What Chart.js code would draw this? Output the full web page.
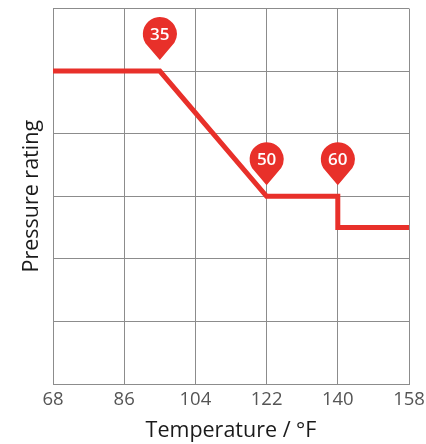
<!DOCTYPE html>
<html>
<head>
<meta charset="utf-8">
<style>
  html, body { margin: 0; padding: 0; background: #fff; }
  #myChart { display: block; }
</style>
<script src="https://cdn.jsdelivr.net/npm/chart.js@4"></script>
</head>
<body>
<canvas id="myChart" width="426" height="444"></canvas>
<script>
var lineX = [68, 95, 122, 140, 140, 158];
var lineY = [5, 5, 3, 3, 2.5, 2.5];
var pinX = [95, 122, 140];
var pinY = [5, 3, 3];
var pinLabels = ["35", "50", "60"];
var xTicks = [68, 86, 104, 122, 140, 158];
var yTicks = [0, 1, 2, 3, 4, 5, 6];

var red = "#e8302a";
var gridColor = "#8c8c8c";
var font = "'Open Sans'";

// draws the map pin above each point of the second dataset
var pinPlugin = {
  id: "pins",
  afterDatasetsDraw: function (chart) {
    var c = chart.ctx;
    var points = chart.getDatasetMeta(1).data;
    points.forEach(function (p, i) {
      var tipY = p.y - 11;
      var cy = tipY - 26;
      var r = 17;
      c.save();
      c.fillStyle = red;
      c.beginPath();
      c.moveTo(p.x, tipY);
      c.lineTo(p.x - r * 0.86, cy + r * 0.52);
      c.arc(p.x, cy, r, Math.PI - 0.54, 0.54);
      c.closePath();
      c.fill();
      c.fillStyle = "#fff";
      c.font = "600 17px " + font;
      c.textAlign = "center";
      c.textBaseline = "middle";
      c.fillText(pinLabels[i], p.x, cy + 1);
      c.restore();
    });
  },
};

new Chart(document.getElementById("myChart"), {
  type: "scatter",
  data: {
    datasets: [
      {
        data: lineX.map(function (x, i) {
          return { x: x, y: lineY[i] };
        }),
        showLine: true,
        borderColor: red,
        borderWidth: 5,
        borderJoinStyle: "miter",
        pointRadius: 0,
        tension: 0,
        clip: false,
      },
      {
        data: pinX.map(function (x, i) {
          return { x: x, y: pinY[i] };
        }),
        showLine: false,
        pointRadius: 0,
      },
    ],
  },
  options: {
    responsive: false,
    animation: false,
    layout: { padding: { top: 8.5, right: 17, left: 0, bottom: 0 } },
    plugins: { legend: { display: false }, tooltip: { enabled: false } },
    scales: {
      x: {
        type: "linear",
        min: 68,
        max: 158,
        afterBuildTicks: function (axis) {
          axis.ticks = xTicks.map(function (v) {
            return { value: v };
          });
        },
        afterFit: function (axis) {
          axis.height = 60;
          // last label may run past the plot edge, keep the plot width fixed
          axis.paddingLeft = 0;
          axis.paddingRight = 0;
        },
        grid: { color: gridColor, lineWidth: 1, drawTicks: false },
        border: { color: gridColor, width: 1 },
        ticks: {
          color: "#555",
          font: { family: font, size: 18.5 },
          padding: 5,
          maxRotation: 0,
          autoSkip: false,
        },
        title: {
          display: true,
          text: "Temperature / °F",
          color: "#1a1a1a",
          font: { family: font, size: 21.5 },
          padding: { top: 2, bottom: 0 },
        },
      },
      y: {
        type: "linear",
        min: 0,
        max: 6,
        afterBuildTicks: function (axis) {
          axis.ticks = yTicks.map(function (v) {
            return { value: v };
          });
        },
        afterFit: function (axis) {
          axis.width = 53;
        },
        grid: { color: gridColor, lineWidth: 1, drawTicks: false },
        border: { color: gridColor, width: 1 },
        ticks: { display: false },
        title: {
          display: true,
          text: "Pressure rating",
          color: "#1a1a1a",
          font: { family: font, size: 21.5 },
          padding: { top: 19, bottom: 0 },
        },
      },
    },
  },
  plugins: [pinPlugin],
});
</script>
</body>
</html>
